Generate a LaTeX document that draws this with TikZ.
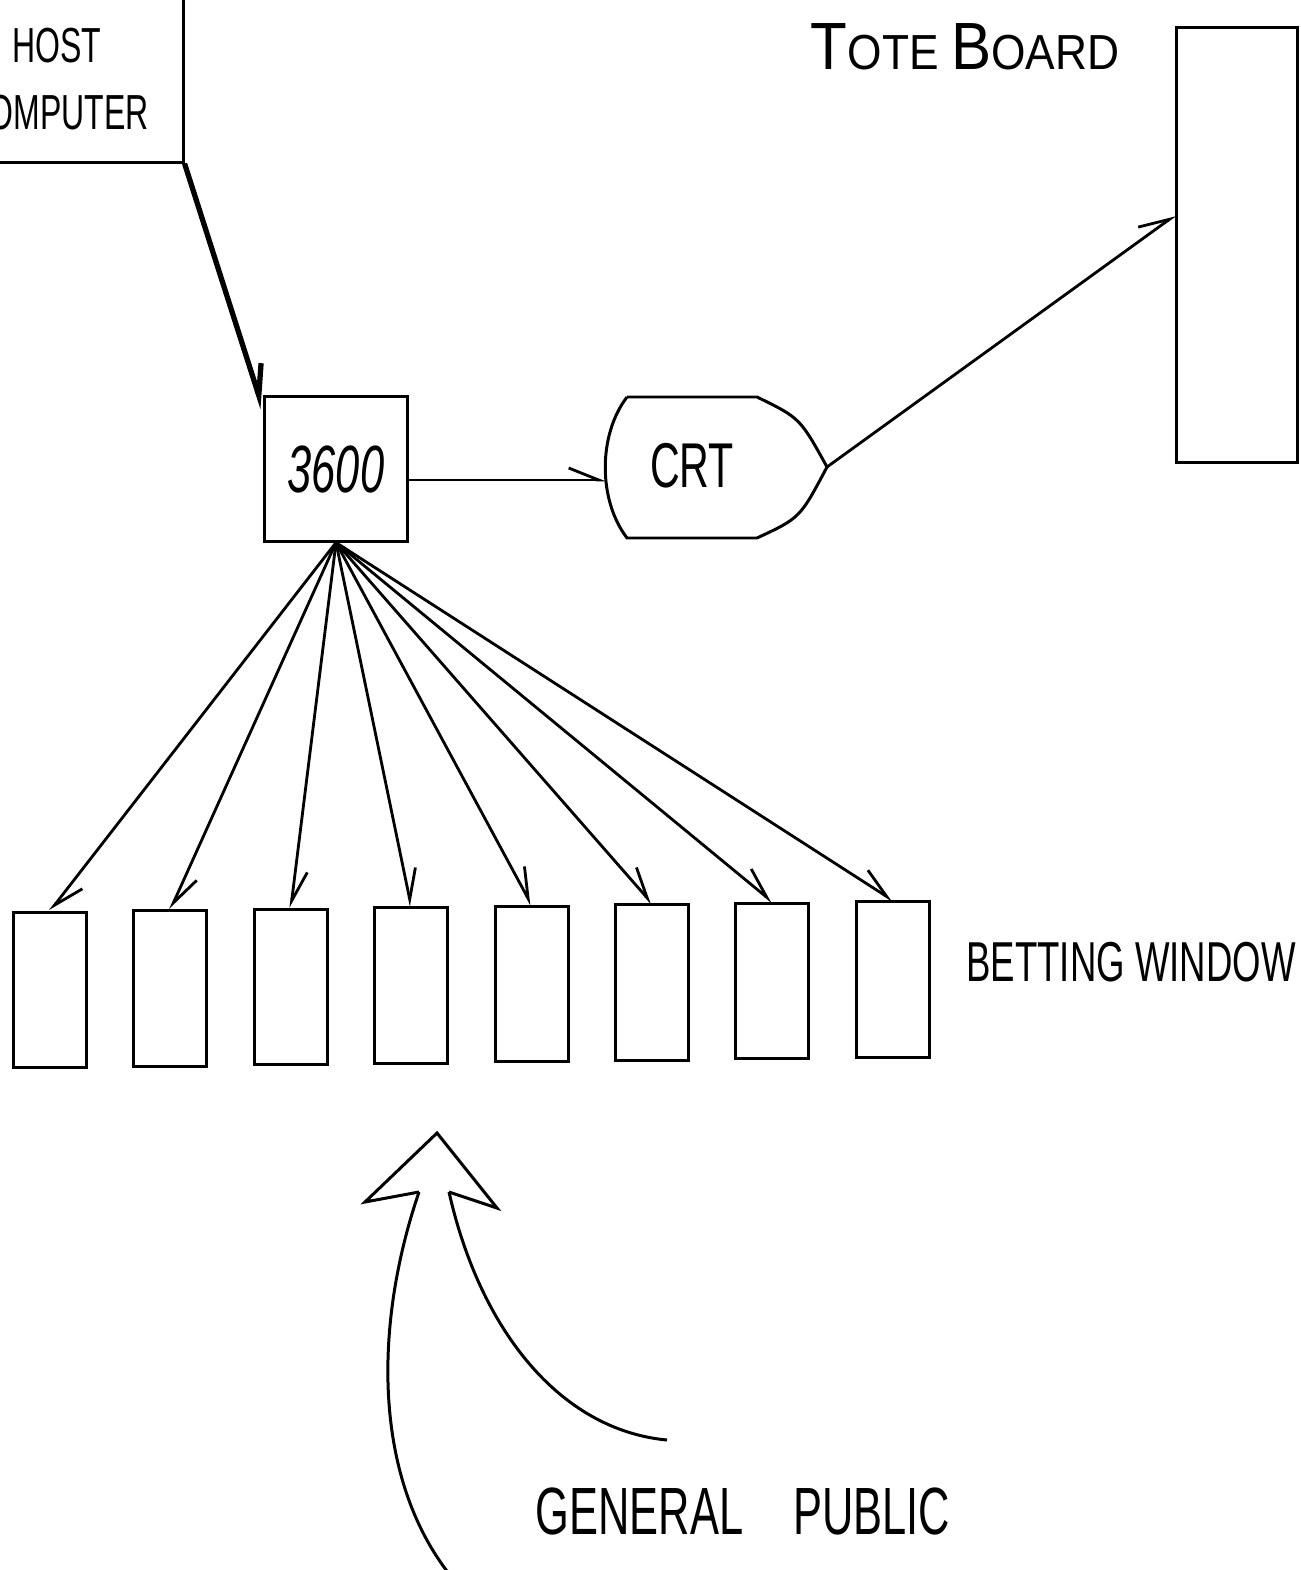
\documentclass[tikz,border=0pt]{standalone}
\usepackage{fontspec}
\newfontfamily\hand[FakeStretch=0.65]{Liberation Sans}
\newfontfamily\handwide[FakeStretch=0.9]{Liberation Sans}
\usetikzlibrary{arrows.meta, positioning, calc}

\begin{document}
\begin{tikzpicture}[
      x=0.01cm, y=-0.01cm,
      line width=0.85pt,
      box/.style={draw, inner sep=0pt, align=center},
      win/.style={draw, inner sep=0pt, minimum width=0.73cm, minimum height=1.55cm},
      arr/.style={-{Straight Barb[harpoon, length=3mm, width=2.4mm]}, line width=0.8pt},
      lbl/.style={inner sep=0pt}
    ]
    \useasboundingbox (0,0) rectangle (1301,1570);
    \clip (0,0) rectangle (1301,1570);

    % boxes
    \node[box, minimum width=2.52cm, minimum height=1.66cm, font={\hand\fontsize{14}{19}\selectfont}] (host) at (57,79) {HOST\\COMPUTER};
    \node[box, minimum width=1.43cm, minimum height=1.44cm, font={\hand\itshape\fontsize{19}{19}\selectfont}] (c3600) at (336,469) {3600};
    \node[box, minimum width=1.2cm, minimum height=4.34cm] (tote) at (1237,245) {};

    % crt
    \node[lbl, font={\hand\fontsize{18}{18}\selectfont}] (crt) at (692,466) {CRT};
    \coordinate (crtin) at (606,480);
    \coordinate (crttip) at (827,467);
    \draw (627,397) -- (757,397) .. controls (800,418) .. (crttip)
      .. controls (800,518) .. (757,538) -- (627,538)
      .. controls (598,500) and (598,435) .. (627,397);

    % windows
    \foreach \i in {1,...,8}
      \node[win] (w\i) at ({50+120.4*(\i-1)}, {990-1.5*(\i-1)}) {};

    % connectors
    \draw[arr, line width=1.5pt] (host.south east) -- ([yshift=-0.13cm]c3600.north west);
    \draw[arr] (c3600.east |- crtin) -- (crtin);
    \draw[arr] (crttip) -- ([yshift=0.3cm]tote.west);
    \foreach \i in {1,...,8}
      \draw[arr] (c3600.south) -- (w\i.north);

    % public arrow
    \draw (419,1192) -- (365,1202) -- (437,1133) -- (497,1208) -- (449,1192);
    \draw (419,1192) .. controls (372,1330) and (375,1480) .. (450,1575);
    \draw (449,1192) .. controls (480,1330) and (560,1430) .. (667,1440);

    % labels
    \node[lbl, font={\handwide\fontsize{14}{14}\selectfont}] (totelbl) at (965,47)
      {{\fontsize{19}{19}\selectfont T}OTE {\fontsize{19}{19}\selectfont B}OARD};
    \node[lbl, anchor=west, font={\hand\fontsize{16}{16}\selectfont}] (winlbl) at (965,962) {BETTING WINDOW};
    \node[lbl, font={\hand\fontsize{19}{19}\selectfont}] (publbl) at (743,1511) {GENERAL\hspace{0.5cm}PUBLIC};
  \end{tikzpicture}
\end{document}
